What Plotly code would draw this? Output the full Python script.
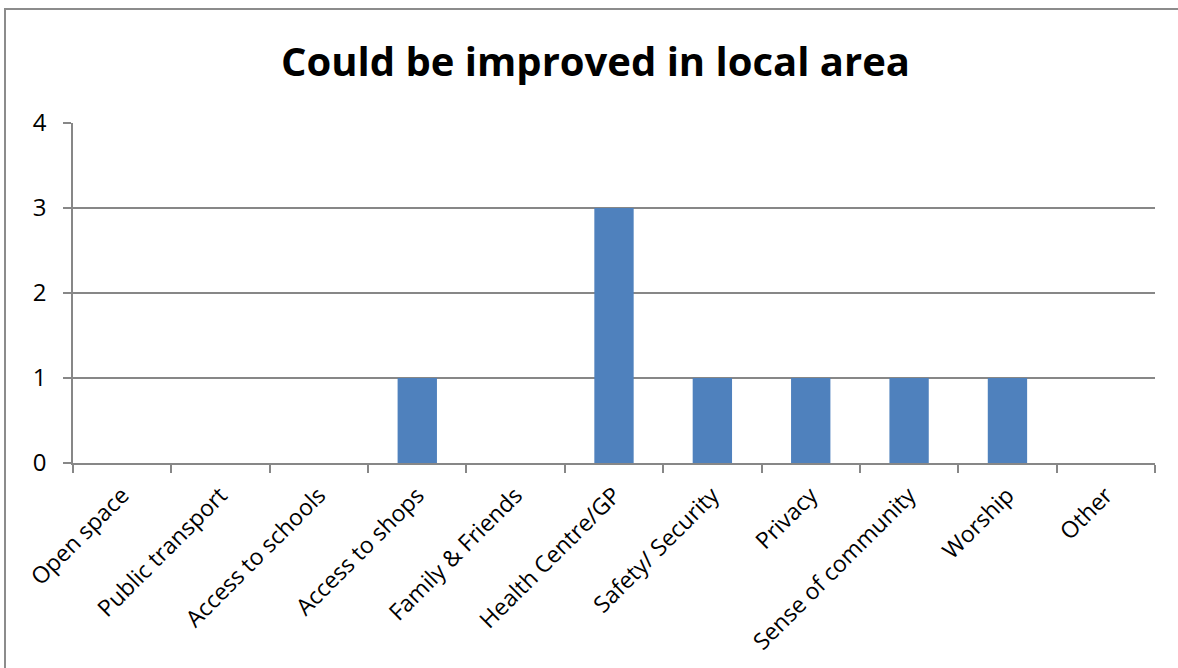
import plotly.graph_objects as go

categories = ["Open space", "Public transport", "Access to schools", "Access to shops",
              "Family & Friends", "Health Centre/GP", "Safety/ Security", "Privacy",
              "Sense of community", "Worship", "Other"]
values = [0, 0, 0, 1, 0, 3, 1, 1, 1, 1, 0]
y_ticks = [0, 1, 2, 3, 4]
title_text = "Could be improved in local area"

W, H = 1178, 668
# plot area in pixels
PX0, PX1, PY0, PY1 = 73, 1155, 123, 463

grid = "#878787"
frame = "#8c8c8c"
font = "Open Sans"

fig = go.Figure()
fig.add_trace(go.Bar(x=categories, y=values, marker=dict(color="#4F81BD", line=dict(width=0)),
                     width=0.4, xaxis="x", yaxis="y"))
# empty trace so the frame subplot exists (its axis lines draw the chart frame)
fig.add_trace(go.Scatter(x=[], y=[], mode="markers", hoverinfo="skip", xaxis="x2", yaxis="y2"))

fig.update_layout(
    width=W, height=H,
    margin=dict(l=0, r=0, t=0, b=0, autoexpand=False),
    paper_bgcolor="white", plot_bgcolor="rgba(0,0,0,0)",
    showlegend=False,
    title=dict(text="<b>" + title_text + "</b>", x=595.5 / W, xref="paper", xanchor="center",
               y=1 - 62 / H, yref="container", yanchor="middle",
               font=dict(family=font, size=40, color="black")),
    xaxis=dict(domain=[PX0 / W, PX1 / W], anchor="y", type="category", tickangle=-45,
               tickson="boundaries", ticks="outside",
               ticklen=8, tickcolor=grid, tickwidth=1.5, showline=True, linecolor=grid, linewidth=1.5,
               showgrid=False, tickfont=dict(family=font, size=23, color="black"),
               ticklabelstandoff=8, range=[-0.5, 10.5]),
    yaxis=dict(domain=[1 - PY1 / H, 1 - PY0 / H], anchor="x", range=[0, 4], tickvals=y_ticks,
               ticks="outside", ticklen=8, tickcolor=grid,
               tickwidth=1.5, showline=True, linecolor=grid, linewidth=1.5,
               showgrid=True, gridcolor=grid, gridwidth=1.5, zeroline=False,
               tickfont=dict(family=font, size=24, color="black"), ticklabelstandoff=12),
    xaxis2=dict(domain=[6 / W, 1], anchor="y2", side="top", range=[0, 1], showline=True,
                linecolor=frame, linewidth=2, showgrid=False, zeroline=False,
                showticklabels=False, ticks="", fixedrange=True),
    yaxis2=dict(domain=[0, 1 - 10 / H], anchor="x2", side="left", range=[0, 1], showline=True,
                linecolor=frame, linewidth=2, showgrid=False, zeroline=False,
                showticklabels=False, ticks="", fixedrange=True),
)

fig.write_html("out.html")
